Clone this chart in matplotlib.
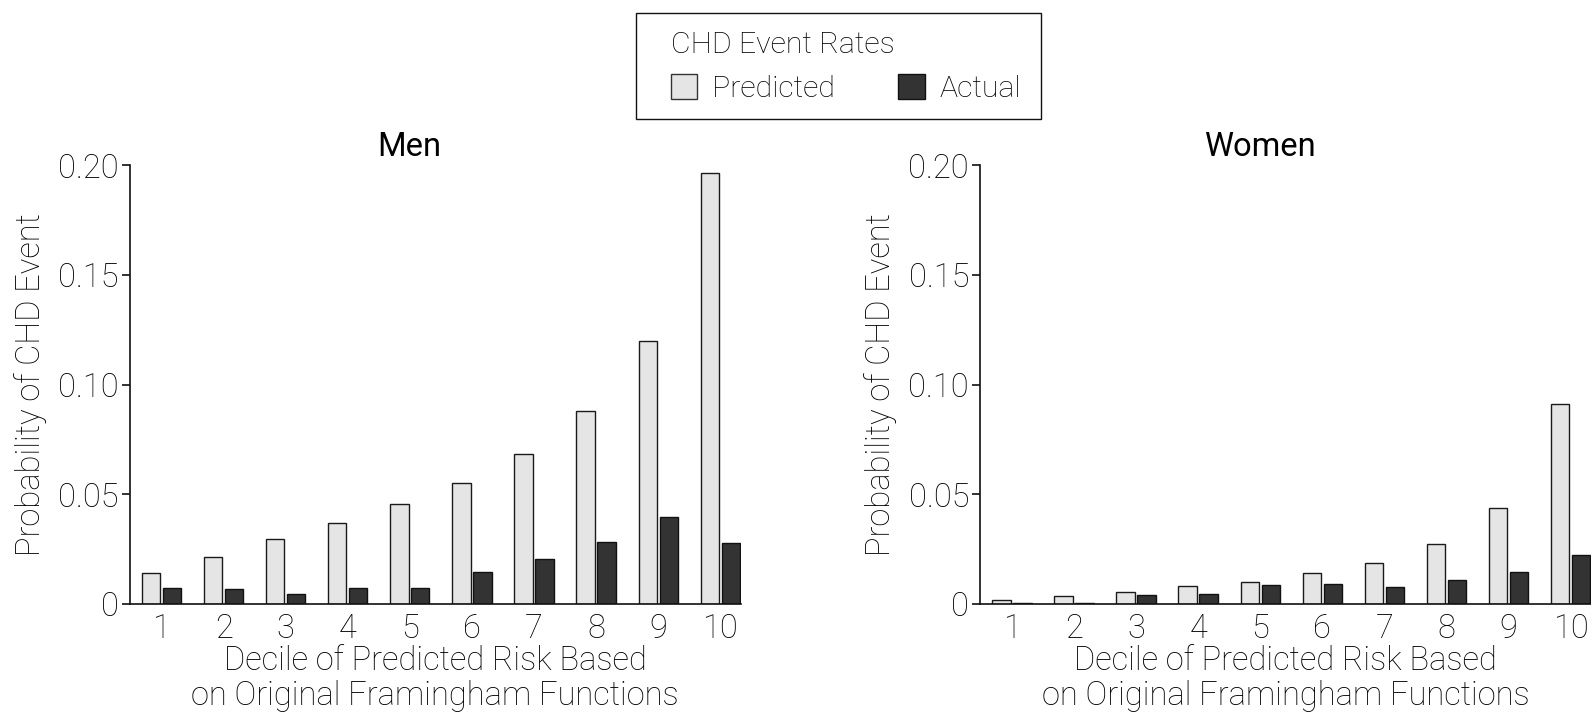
import matplotlib
matplotlib.use("Agg")
import matplotlib.pyplot as plt
from matplotlib.patches import Patch, Rectangle
import numpy as np

plt.rcParams['font.family'] = ['Roboto', 'DejaVu Sans']
plt.rcParams['font.weight'] = 'light'
plt.rcParams['axes.labelweight'] = 'light'

deciles = [1, 2, 3, 4, 5, 6, 7, 8, 9, 10]
men_predicted = [0.0140, 0.0215, 0.0293, 0.0368, 0.0453, 0.0549, 0.0682, 0.0877, 0.1198, 0.1967]
men_actual = [0.0070, 0.0067, 0.0046, 0.0073, 0.0073, 0.0144, 0.0203, 0.0282, 0.0397, 0.0276]
women_predicted = [0.0019, 0.0036, 0.0052, 0.0081, 0.0098, 0.0141, 0.0184, 0.0274, 0.0435, 0.0909]
women_actual = [0.0002, 0.0004, 0.0038, 0.0044, 0.0085, 0.0090, 0.0075, 0.0106, 0.0146, 0.0220]
ytick_vals = [0, 0.05, 0.10, 0.15, 0.20]
ytick_labels = ["0", "0.05", "0.10", "0.15", "0.20"]
panel_titles = ["Men", "Women"]
xlabel_text = "Decile of Predicted Risk Based\non Original Framingham Functions"
ylabel_text = "Probability of CHD Event"
legend_title = "CHD Event Rates"
series_names = ["Predicted", "Actual"]

c_pred = "#e5e5e5"
c_act = "#333333"
FS = 23.5
LFS = 21.8
W, H = 1591, 715

fig = plt.figure(figsize=(W / 100, H / 100), dpi=100)

bw = 0.295
off = 0.169
positions = [[0.0816, 0.1557, 0.3840, 0.613], [0.6161, 0.1557, 0.3840, 0.613]]
data = [(men_predicted, men_actual), (women_predicted, women_actual)]

for pos, (pred, act), title in zip(positions, data, panel_titles):
    ax = fig.add_axes(pos)
    x = np.array(deciles, dtype=float)
    ax.bar(x - off, pred, width=bw, color=c_pred, edgecolor="#1a1a1a", linewidth=1.0)
    ax.bar(x + off, act, width=bw, color=c_act, edgecolor="#111111", linewidth=1.0)
    ax.set_xlim(0.49, 10.33)
    ax.set_ylim(0, 0.20)
    ax.set_yticks(ytick_vals)
    ax.set_yticklabels(ytick_labels)
    ax.set_xticks(deciles)
    ax.set_xticklabels([str(d) for d in deciles])
    for s in ["top", "right"]:
        ax.spines[s].set_visible(False)
    for s in ["left", "bottom"]:
        ax.spines[s].set_linewidth(1.2)
        ax.spines[s].set_color("#111111")
    ax.tick_params(axis="y", length=6, width=1.2, pad=2, labelsize=FS, color="#111111")
    ax.tick_params(axis="x", length=0, pad=6.5, labelsize=FS)
    ax.set_title(title, fontsize=FS, pad=7, x=0.457, fontweight="normal")
    ax.set_xlabel(xlabel_text, fontsize=FS, linespacing=1.12, labelpad=0.5)
    ax.set_ylabel(ylabel_text, fontsize=FS, labelpad=8)

# legend frame (drawn as a rectangle in figure pixels)
fig.patches.append(Rectangle((636 / W, 1 - 119 / H), (1041 - 636) / W, (119 - 13) / H,
                             transform=fig.transFigure, facecolor="none",
                             edgecolor="#111111", linewidth=1.0))

handles = [Patch(facecolor=c_pred, edgecolor="#333333", linewidth=1.0),
           Patch(facecolor=c_act, edgecolor="#111111", linewidth=1.0)]
leg = fig.legend(handles, series_names, title=legend_title, ncol=2,
                 loc="upper left", bbox_to_anchor=(671 / W, 1 - 31 / H),
                 fontsize=LFS, title_fontsize=LFS, frameon=False,
                 handlelength=0.87, handleheight=0.87,
                 columnspacing=2.08, handletextpad=0.5, borderpad=0,
                 borderaxespad=0, alignment="left")

fig.savefig("out.png", dpi=100)
